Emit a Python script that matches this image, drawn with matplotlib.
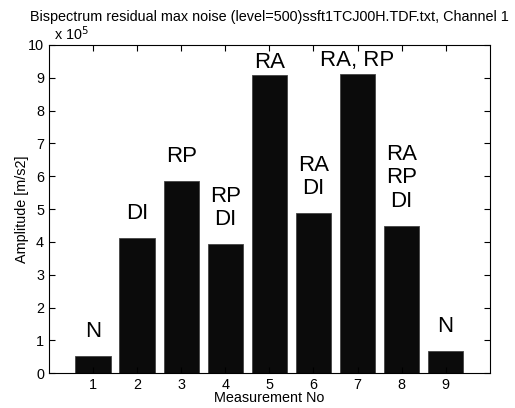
import numpy as np
import matplotlib
matplotlib.use('Agg')
import matplotlib.pyplot as plt
from matplotlib.ticker import FuncFormatter

plt.rcParams['font.family'] = ['Liberation Sans', 'DejaVu Sans']

measurements = [1, 2, 3, 4, 5, 6, 7, 8, 9]
amplitude = [0.54e5, 4.13e5, 5.85e5, 3.94e5, 9.07e5, 4.87e5, 9.12e5, 4.50e5, 0.68e5]
labels = ['N', 'DI', 'RP', 'RP\nDI', 'RA', 'RA\nDI', 'RA, RP', 'RA\nRP\nDI', 'N']

fig = plt.figure(figsize=(5.15, 4.08), dpi=100)
ax = fig.add_axes([0.095, 0.085, 0.856, 0.805])

ax.bar(measurements, amplitude, width=0.8, color='#0b0b0b', edgecolor='#444444', linewidth=0.6)

for x, h, lab in zip(measurements, amplitude, labels):
    # tall bars: label squeezed under the top of the box
    off = 10 if h < 8e5 else 2
    ax.annotate(lab, (x, h), xytext=(0, off), textcoords='offset points',
                ha='center', va='bottom', fontsize=16, linespacing=1.15)

ax.set_xlim(0, 10)
ax.set_ylim(0, 10e5)
ax.set_xticks(measurements)
ax.set_yticks(np.arange(0, 11e5, 1e5))
ax.yaxis.set_major_formatter(FuncFormatter(lambda v, p: '%d' % round(v / 1e5)))
ax.tick_params(direction='in', top=True, right=True, labelsize=10.4, length=4)
ax.text(0.012, 1.005, r'x 10$^5$', transform=ax.transAxes, fontsize=10.4, va='bottom')

ax.set_title('Bispectrum residual max noise (level=500)ssft1TCJ00H.TDF.txt, Channel 1',
             fontsize=10.4, pad=17)
ax.set_xlabel('Measurement No', fontsize=10.4, labelpad=-1)
ax.set_ylabel('Amplitude [m/s2]', fontsize=10.4, labelpad=-1)

fig.savefig('out.png', dpi=100)
